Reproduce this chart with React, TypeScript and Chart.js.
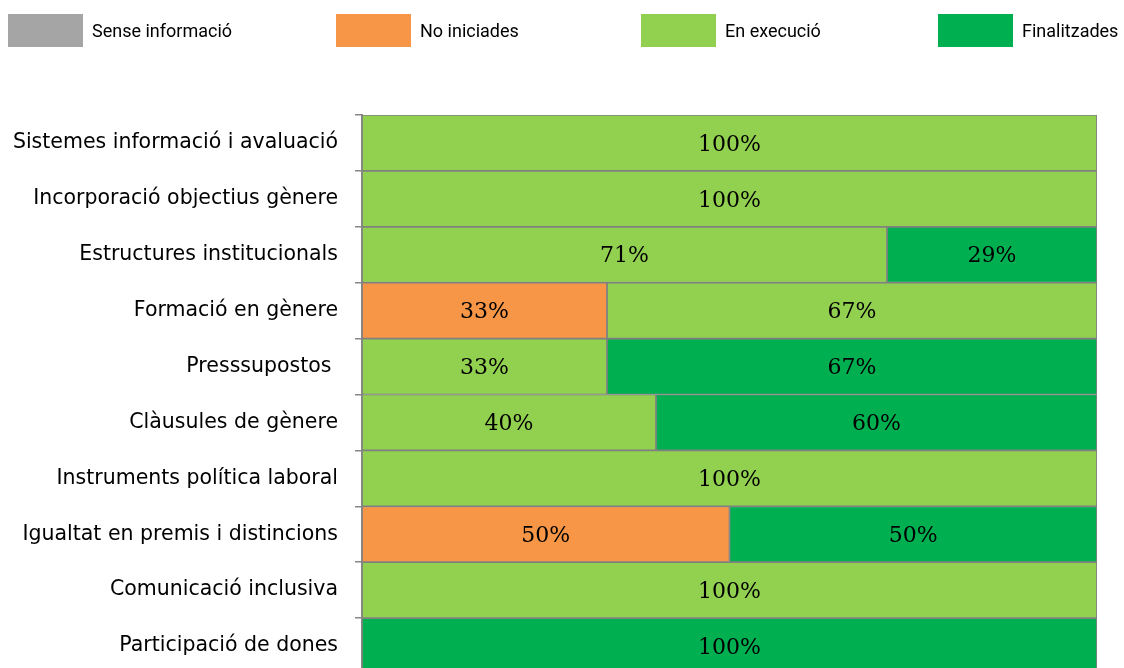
import React, { useEffect, useRef } from "react";
import { Chart, registerables } from "chart.js";

Chart.register(...registerables);

const categories = [
  "Sistemes informació i avaluació",
  "Incorporació objectius gènere",
  "Estructures institucionals",
  "Formació en gènere",
  "Presssupostos ",
  "Clàusules de gènere",
  "Instruments política laboral",
  "Igualtat en premis i distincions",
  "Comunicació inclusiva",
  "Participació de dones",
];

const seriesNames = ["Sense informació", "No iniciades", "En execució", "Finalitzades"];
const seriesColors = ["#A5A5A5", "#F79646", "#92D050", "#00B050"];

const senseInformacio = [0, 0, 0, 0, 0, 0, 0, 0, 0, 0];
const noIniciades = [0, 0, 0, 33.33, 0, 0, 0, 50, 0, 0];
const enExecucio = [100, 100, 71.43, 66.67, 33.33, 40, 100, 0, 100, 0];
const finalitzades = [0, 0, 28.57, 0, 66.67, 60, 0, 50, 0, 100];

const legendX = [8, 336, 641, 938];

const valueLabelsPlugin = {
  id: "valueLabels",
  afterDatasetsDraw(chart: any) {
    const ctx = chart.ctx;
    ctx.save();
    ctx.font = "22px 'DejaVu Serif', serif";
    ctx.fillStyle = "#000";
    ctx.textAlign = "center";
    ctx.textBaseline = "middle";
    chart.data.datasets.forEach((ds: any, di: number) => {
      const meta = chart.getDatasetMeta(di);
      meta.data.forEach((el: any, i: number) => {
        const v = ds.data[i];
        if (!v) return;
        const p = el.getCenterPoint();
        ctx.fillText(Math.round(v) + "%", p.x, p.y + 2);
      });
    });
    ctx.restore();
  },
};

const topLegendPlugin = {
  id: "topLegend",
  afterDraw(chart: any) {
    const ctx = chart.ctx;
    ctx.save();
    ctx.font = "18px Roboto, sans-serif";
    ctx.textBaseline = "middle";
    ctx.textAlign = "left";
    seriesNames.forEach((name, i) => {
      const x = legendX[i];
      ctx.fillStyle = seriesColors[i];
      ctx.fillRect(x, 14, 75, 33);
      ctx.fillStyle = "#000";
      ctx.fillText(name, x + 84, 32);
    });
    ctx.restore();
  },
};

export default function App() {
  const ref = useRef<HTMLCanvasElement | null>(null);
  useEffect(() => {
    if (!ref.current) return;
    const datasets = [senseInformacio, noIniciades, enExecucio, finalitzades].map((d, i) => ({
      label: seriesNames[i],
      data: d,
      backgroundColor: seriesColors[i],
      borderColor: "#808080",
      borderWidth: 1.2,
      borderSkipped: false,
      barPercentage: 1,
      categoryPercentage: 1,
    }));
    const chart = new Chart(ref.current, {
      type: "bar",
      data: { labels: categories, datasets },
      options: {
        indexAxis: "y",
        animation: false,
        responsive: false,
        devicePixelRatio: 1,
        layout: { padding: { top: 115, left: 0, right: 27, bottom: 6 } },
        plugins: {
          legend: { display: false },
          tooltip: { enabled: false },
        },
        scales: {
          x: { stacked: true, min: 0, max: 100, display: false },
          y: {
            stacked: true,
            afterFit: (scale: any) => {
              scale.width = 362;
              scale.paddingTop = 0;
              scale.paddingBottom = 0;
            },
            grid: {
              display: true,
              offset: true,
              drawOnChartArea: false,
              drawTicks: true,
              tickLength: 7,
              color: "#868686",
              lineWidth: 1.5,
            },
            border: { display: true, color: "#868686", width: 2 },
            ticks: {
              color: "#000",
              padding: 17,
              font: { family: "'DejaVu Sans', sans-serif", size: 20.5 },
            },
          },
        },
      } as any,
      plugins: [valueLabelsPlugin, topLegendPlugin],
    });
    return () => chart.destroy();
  }, []);
  return (
    <div style={{ position: "fixed", left: 0, top: 0, width: 1124, height: 668, overflow: "hidden", background: "#fff" }}>
      <canvas ref={ref} width={1124} height={680} style={{ display: "block" }} />
    </div>
  );
}
